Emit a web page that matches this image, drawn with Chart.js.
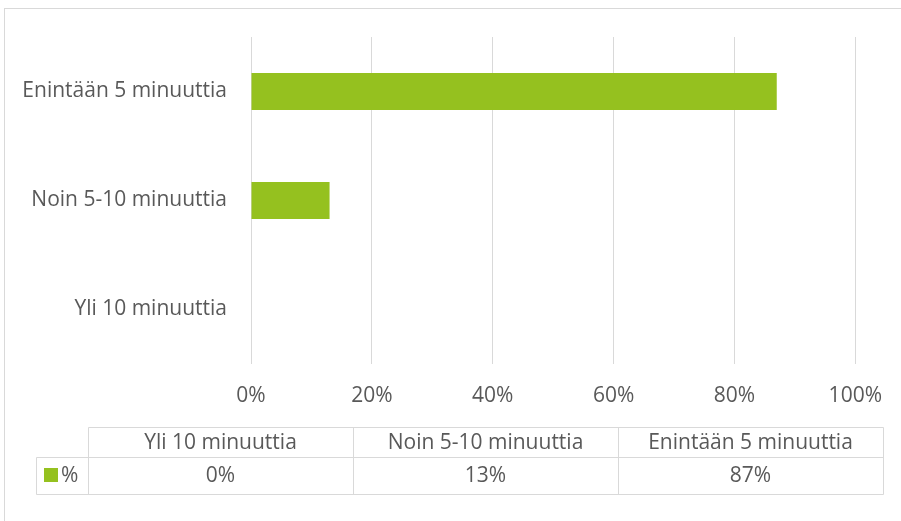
<!DOCTYPE html>
<html lang="fi">
<head>
<meta charset="utf-8">
<title>Vastausaika</title>
<script src="https://cdn.jsdelivr.net/npm/chart.js@4/dist/chart.umd.min.js"></script>
<style>
  html, body { margin: 0; padding: 0; background: #ffffff; }
  #wrap { width: 901px; height: 521px; position: relative; }
</style>
</head>
<body>
<div id="wrap"><canvas id="c" width="901" height="521"></canvas></div>
<script>
// Answer categories (bottom to top in the chart, left to right in the table)
const categories = ['Yli 10 minuuttia', 'Noin 5-10 minuuttia', 'Enintään 5 minuuttia'];
// Share of respondents, percent
const shares = [0, 13, 87];
// Series name shown in the data table
const seriesName = '%';
// Value axis ticks
const tickValues = [0, 20, 40, 60, 80, 100];

const GREEN = '#95c11f';
const TEXT = '#595959';
const LINE = '#d9d9d9';
const FONT = '"Open Sans", "Noto Sans", sans-serif';
const FONT_SIZE = 21;

// White background and the outer frame of the chart
const framePlugin = {
  id: 'frame',
  beforeDraw(chart) {
    const ctx = chart.ctx;
    ctx.save();
    ctx.fillStyle = '#ffffff';
    ctx.fillRect(0, 0, chart.width, chart.height);
    ctx.strokeStyle = LINE;
    ctx.lineWidth = 1;
    ctx.strokeRect(4.5, 8.5, chart.width + 10, chart.height + 10);
    ctx.restore();
  }
};

// Data table under the chart: header row with categories, one row of values
const tablePlugin = {
  id: 'dataTable',
  afterDraw(chart) {
    const ctx = chart.ctx;
    const left = 88, right = 883, legendLeft = 36;
    const top = 427, mid = 457, bottom = 494;
    const n = categories.length;
    const colW = (right - left) / n;
    const px = v => Math.round(v) + 0.5;

    ctx.save();
    ctx.strokeStyle = LINE;
    ctx.lineWidth = 1;
    ctx.beginPath();
    // horizontal rules
    ctx.moveTo(px(left), px(top)); ctx.lineTo(px(right), px(top));
    ctx.moveTo(px(legendLeft), px(mid)); ctx.lineTo(px(right), px(mid));
    ctx.moveTo(px(legendLeft), px(bottom)); ctx.lineTo(px(right), px(bottom));
    // vertical rules
    ctx.moveTo(px(legendLeft), px(mid)); ctx.lineTo(px(legendLeft), px(bottom));
    for (let i = 0; i <= n; i++) {
      const x = px(left + colW * i);
      ctx.moveTo(x, px(top)); ctx.lineTo(x, px(bottom));
    }
    ctx.stroke();

    ctx.fillStyle = TEXT;
    ctx.font = FONT_SIZE + 'px ' + FONT;
    ctx.textAlign = 'center';
    ctx.textBaseline = 'middle';
    const headY = (top + mid) / 2 + 1;
    const valY = (mid + bottom) / 2 + 1;
    categories.forEach((c, i) => {
      const cx = left + colW * (i + 0.5);
      ctx.fillText(c, cx, headY);
      ctx.fillText(shares[i] + '%', cx, valY);
    });

    // legend key for the series
    ctx.fillStyle = GREEN;
    ctx.fillRect(44, 468, 14, 14);
    ctx.fillStyle = TEXT;
    ctx.textAlign = 'left';
    ctx.fillText(seriesName, 61, valY);
    ctx.restore();
  }
};

new Chart(document.getElementById('c'), {
  type: 'bar',
  data: {
    labels: categories,
    datasets: [{
      label: seriesName,
      data: shares,
      backgroundColor: GREEN,
      borderWidth: 0,
      barPercentage: 0.34,
      categoryPercentage: 1.0
    }]
  },
  options: {
    indexAxis: 'y',
    responsive: false,
    animation: false,
    events: [],
    layout: { padding: { left: 0, top: 37, right: 44, bottom: 0 } },
    plugins: {
      legend: { display: false },
      tooltip: { enabled: false },
      title: { display: false }
    },
    scales: {
      x: {
        min: 0,
        max: 100,
        afterBuildTicks(scale) {
          scale.ticks = tickValues.map(v => ({ value: v }));
        },
        afterFit(scale) { scale.height = 157; },
        grid: { color: LINE, lineWidth: 1, drawTicks: false },
        border: { display: false },
        ticks: {
          padding: 19,
          color: TEXT,
          font: { family: FONT, size: FONT_SIZE },
          maxRotation: 0,
          callback: v => v + '%'
        }
      },
      y: {
        reverse: true,
        afterFit(scale) { scale.width = 251; },
        grid: { display: false, drawTicks: false },
        border: { display: false },
        ticks: {
          padding: 24,
          color: TEXT,
          font: { family: FONT, size: FONT_SIZE }
        }
      }
    }
  },
  plugins: [framePlugin, tablePlugin]
});
</script>
</body>
</html>
